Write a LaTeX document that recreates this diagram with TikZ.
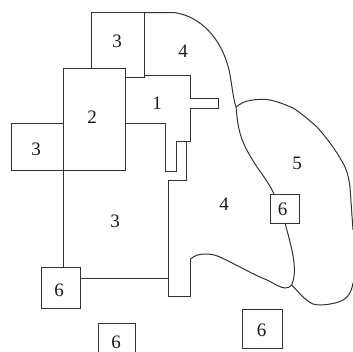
\documentclass[tikz,border=0pt]{standalone}
\usepackage{fontspec}
\setmainfont{Liberation Serif}
\begin{document}
\begin{tikzpicture}[x=1pt,y=-1pt,
  ln/.style={draw=black!80,line width=1pt,line join=miter},
  lab/.style={font=\fontsize{19}{19}\selectfont,text=black!90,inner sep=0pt}]
\useasboundingbox (0,0) rectangle (353,351);
\begin{scope}
\clip (0,0) rectangle (353,351);
% rectangles
\draw[ln] (63,68) rectangle (125,170.5);
\draw[ln] (63,123) -- (11,123) -- (11,170) -- (63,170);
\draw[ln] (91,68) -- (91,12.5) -- (144,12.5) -- (144,77.5) -- (125,77.5);
\draw[ln] (63,170.5) -- (63,267);
\draw[ln] (80,278) -- (168,278);
% region 1
\draw[ln] (144,75) -- (190,75) -- (190,98) -- (218,98) -- (218,108) -- (190,108) -- (190,141) -- (176,141) -- (176,171.5) -- (165,171.5) -- (165,123) -- (125,123);
% region 4 left edge
\draw[ln] (186,141) -- (186,180) -- (168,180) -- (168,296.5) -- (190.5,296.5) -- (190.5,259);
% curve 4 bottom
\draw[ln] (190.5,259) .. controls (195,255) and (200,254) .. (206,254)
  .. controls (213,254) and (218,256) .. (222,258)
  .. controls (237,265) and (252,274) .. (267,280)
  .. controls (275,284) and (281,288) .. (285,288)
  .. controls (288,288) and (290,287) .. (291.7,285)
  .. controls (294,280) and (295,272) .. (294,263)
  .. controls (293,252) and (289,238) .. (285,223);
% curve 4 top/right
\draw[ln] (144,12.5) -- (174,12.5)
  .. controls (200,16) and (222,38) .. (229.5,72)
  .. controls (232,85) and (233,98) .. (236,107)
  .. controls (237,118) and (238,126) .. (240,133)
  .. controls (243,145) and (250,156) .. (257,167)
  .. controls (264,177) and (270,185) .. (274,194);
% region 5
\draw[ln] (236,107) .. controls (241,103) and (246,101) .. (250,100.5)
  .. controls (258,99) and (265,99) .. (270,100)
  .. controls (279,102) and (286,105) .. (293,108)
  .. controls (301,113) and (309,120) .. (317,127)
  .. controls (327,138) and (338,153) .. (345,167)
  .. controls (348,174) and (349,180) .. (350,187)
  .. controls (351,202) and (352,216) .. (353,230);
\draw[ln] (291.7,285) .. controls (298,291) and (304,300) .. (313,304)
  .. controls (319,305.5) and (325,305) .. (330,304)
  .. controls (337,303) and (343,301) .. (347,297)
  .. controls (350,294) and (352,289) .. (353,283);
% 6 boxes
\node[ln,fill=white,inner sep=0pt,minimum width=39pt,minimum height=41pt,anchor=center] (a) at (60.5,287.5) {};
\node[ln,inner sep=0pt,minimum width=29pt,minimum height=29pt] (b) at (284.5,208.5) {};
\node[ln,inner sep=0pt,minimum width=40pt,minimum height=39pt] (c) at (262.5,328.5) {};
\draw[ln] (98,360) -- (98,323.5) -- (135,323.5) -- (135,360);
\end{scope}
\node[lab] (t1) at (117,41) {3};
\node[lab] (t2) at (183,51) {4};
\node[lab] (t3) at (157,103) {1};
\node[lab] (t4) at (92,117) {2};
\node[lab] (t5) at (36,149) {3};
\node[lab] (t6) at (297,163) {5};
\node[lab] (t7) at (282.5,209) {6};
\node[lab] (t8) at (224,204) {4};
\node[lab] (t9) at (115,221) {3};
\node[lab] (t10) at (59,290) {6};
\node[lab] (t11) at (116,342) {6};
\node[lab] (t12) at (261.5,330) {6};
\end{tikzpicture}
\end{document}
